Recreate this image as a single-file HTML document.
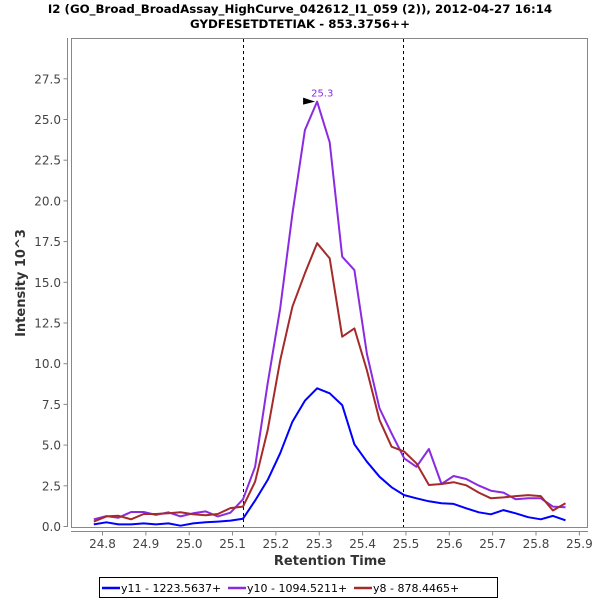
<!DOCTYPE html>
<html><head><meta charset="utf-8"><style>
body{margin:0;background:#fff;}
svg{display:block;font-family:"DejaVu Sans","Liberation Sans",sans-serif;}
</style></head><body>
<svg id="chart" width="600" height="600" viewBox="0 0 600 600">
<rect x="0" y="0" width="600" height="600" fill="#fff"/>
<text x="300" y="13" text-anchor="middle" font-size="11.8" font-weight="bold" fill="#000">I2 (GO_Broad_BroadAssay_HighCurve_042612_I1_059 (2)), 2012-04-27 16:14</text>
<text x="300" y="28" text-anchor="middle" font-size="11.8" font-weight="bold" fill="#000">GYDFESETDTETIAK - 853.3756++</text>
<rect x="71.5" y="38.5" width="516" height="489" fill="#fff" stroke="#888" stroke-width="1"/>
<line x1="67.5" y1="38" x2="67.5" y2="527" stroke="#888"/>
<line x1="71" y1="531.5" x2="588" y2="531.5" stroke="#888"/>
<g id="yticks"></g><g id="xticks"></g>
<g id="vlines"></g>
<g id="series"></g>
<text transform="translate(25,283) rotate(-90)" text-anchor="middle" font-size="13" font-weight="bold" fill="#333">Intensity 10^3</text>
<text x="330" y="565" text-anchor="middle" font-size="13" font-weight="bold" fill="#333">Retention Time</text>
<g>
<rect x="99.5" y="577.5" width="398" height="20" fill="#fff" stroke="#000"/>
<line x1="102" y1="588" x2="120" y2="588" stroke="#0000ff" stroke-width="2.5"/>
<text x="121" y="592" font-size="11" fill="#000">y11 - 1223.5637+</text>
<line x1="228" y1="588" x2="246" y2="588" stroke="#8a2be2" stroke-width="2.5"/>
<text x="247" y="592" font-size="11" fill="#000">y10 - 1094.5211+</text>
<line x1="354" y1="588" x2="372" y2="588" stroke="#a52a2a" stroke-width="2.5"/>
<text x="373" y="592" font-size="11" fill="#000">y8 - 878.4465+</text>
</g>
</svg>
<script>
const times=[24.780,24.809,24.837,24.866,24.895,24.923,24.952,24.980,25.009,25.038,25.066,25.095,25.124,25.152,25.181,25.210,25.238,25.267,25.295,25.324,25.353,25.381,25.410,25.439,25.467,25.496,25.524,25.553,25.582,25.610,25.639,25.668,25.696,25.725,25.753,25.782,25.811,25.839,25.868];
const y10=[0.44,0.64,0.54,0.89,0.89,0.71,0.87,0.62,0.81,0.93,0.62,0.85,1.67,3.67,8.8,13.4,19.2,24.35,26.1,23.6,16.57,15.75,10.6,7.26,5.72,4.19,3.67,4.76,2.61,3.10,2.92,2.51,2.2,2.08,1.67,1.73,1.73,1.22,1.18];
const y8=[0.30,0.62,0.66,0.44,0.77,0.77,0.81,0.87,0.75,0.69,0.77,1.13,1.22,2.75,5.93,10.2,13.5,15.55,17.4,16.47,11.66,12.17,9.6,6.54,4.9,4.6,3.88,2.55,2.61,2.72,2.53,2.08,1.73,1.79,1.87,1.93,1.87,0.98,1.43];
const y11=[0.13,0.26,0.13,0.13,0.19,0.13,0.19,0.05,0.19,0.26,0.30,0.36,0.48,1.59,2.86,4.5,6.44,7.73,8.49,8.18,7.46,5.05,3.98,3.06,2.41,1.93,1.73,1.55,1.43,1.39,1.12,0.87,0.75,1.01,0.81,0.57,0.44,0.65,0.38];
const yTickLabels=["0.0","2.5","5.0","7.5","10.0","12.5","15.0","17.5","20.0","22.5","25.0","27.5"];
const xTickLabels=["24.8","24.9","25.0","25.1","25.2","25.3","25.4","25.5","25.6","25.7","25.8","25.9"];
const boundaries=[25.1245,25.494];
const peakTime=25.295, peakValue=26.1, peakLabel="25.3";
const NS="http://www.w3.org/2000/svg";
const X=t=>102.5+(t-24.8)*433.5;
const Y=v=>526.5-v*16.28;
function mk(tag,attrs,parent,text){const e=document.createElementNS(NS,tag);for(const k in attrs)e.setAttribute(k,attrs[k]);if(text!==undefined)e.textContent=text;parent.appendChild(e);return e;}
const yt=document.getElementById('yticks');
yTickLabels.forEach(l=>{const y=Y(parseFloat(l));
 mk('line',{x1:63.5,x2:67.5,y1:y,y2:y,stroke:'#888'},yt);
 const t=mk('text',{x:61,y:y+4.5,'text-anchor':'end','font-size':12,fill:'#444'},yt,l);
 
 
});
const xt=document.getElementById('xticks');
xTickLabels.forEach(l=>{const x=X(parseFloat(l));
 mk('line',{x1:x,x2:x,y1:531.5,y2:535.5,stroke:'#888'},xt);
 const t=mk('text',{x:x,y:548,'text-anchor':'middle','font-size':12,fill:'#444'},xt,l);
 
 
});
const vl=document.getElementById('vlines');
boundaries.forEach(b=>{const x=Math.round(X(b))+0.5;
 const l=mk('line',{x1:x,x2:x,y1:39,y2:527,stroke:'#000','stroke-dasharray':'3,3'},vl);
 
 
});
const sg=document.getElementById('series');
[[y11,'#0000ff','series-y11'],[y10,'#8a2be2','series-y10'],[y8,'#a52a2a','series-y8']].forEach(([d,c,n])=>{
 const p=mk('polyline',{points:d.map((v,i)=>X(times[i]).toFixed(1)+','+Y(v).toFixed(1)).join(' '),fill:'none',stroke:c,'stroke-width':2,'stroke-linejoin':'round'},sg);
 
 
});
const px=X(peakTime),py=Y(peakValue);
const tri=mk('polygon',{points:(px-14)+','+(py-4)+' '+(px-2)+','+(py)+' '+(px-14)+','+(py+3),fill:'#000'},sg);


const pl=mk('text',{x:px-6,y:py-5,'font-size':10,fill:'#8a2be2'},sg,peakLabel);


</script>
</body></html>
